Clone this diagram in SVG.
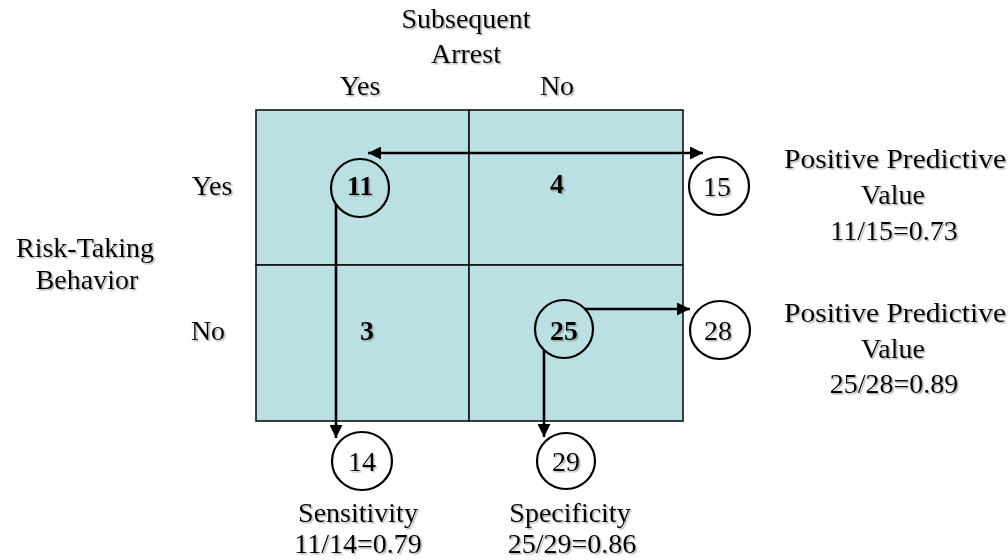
<svg xmlns="http://www.w3.org/2000/svg" width="1008" height="560" viewBox="0 0 1008 560">
<defs>
<style>
text{font-family:"Liberation Serif","Times New Roman",serif;font-size:28px;fill:#000;text-anchor:middle;filter:url(#sh)}
.b{font-weight:bold}
.cell{fill:#BBE0E3;stroke:#111;stroke-width:1.6}
.circ{fill:none;stroke:#000;stroke-width:2.2}
.circw{fill:#fff;stroke:#000;stroke-width:2.2}
.con{fill:none;stroke:#000;stroke-width:2.6}
</style>
<filter id="sh" x="-10%" y="-20%" width="130%" height="150%">
<feDropShadow dx="1.5" dy="1.5" stdDeviation="0.6" flood-color="#777" flood-opacity="0.55"/>
</filter>
<marker id="ah" viewBox="0 0 10 10" refX="10" refY="5" markerWidth="5" markerHeight="5" orient="auto-start-reverse" markerUnits="strokeWidth">
<path d="M0,0 L10,5 L0,10 z" fill="#000"/>
</marker>
</defs>

<g id="table">
<rect class="cell" x="256" y="110" width="213" height="155"/>
<rect class="cell" x="469" y="110" width="214" height="155"/>
<rect class="cell" x="256" y="265" width="213" height="156"/>
<rect class="cell" x="469" y="265" width="214" height="156"/>
</g>

<g id="headers">
<text x="466" y="28">Subsequent</text>
<text x="466" y="63">Arrest</text>
<text x="360" y="95">Yes</text>
<text x="557" y="95">No</text>
<text x="212" y="195">Yes</text>
<text x="208" y="340">No</text>
<text x="85" y="257">Risk-Taking</text>
<text x="87" y="289">Behavior</text>
</g>

<g id="connectors">
<line class="con" x1="368" y1="153" x2="703" y2="153" marker-start="url(#ah)" marker-end="url(#ah)"/>
<line class="con" x1="336" y1="204" x2="336" y2="438" marker-end="url(#ah)"/>
<line class="con" x1="585" y1="309" x2="690" y2="309" marker-end="url(#ah)"/>
<line class="con" x1="544" y1="350" x2="544" y2="437" marker-end="url(#ah)"/>
</g>

<g id="n11"><circle class="circ" cx="360" cy="188" r="29"/><text class="b" x="360" y="195">11</text></g>
<g id="n4"><text class="b" x="557" y="193">4</text></g>
<g id="n3"><text class="b" x="367" y="340">3</text></g>
<g id="n25"><circle class="circ" cx="564" cy="329" r="29"/><text class="b" x="564" y="340">25</text></g>

<g id="n15"><ellipse class="circw" cx="719" cy="186" rx="30" ry="29"/><text x="717" y="196">15</text></g>
<g id="n28"><ellipse class="circw" cx="720" cy="330" rx="30" ry="29"/><text x="718" y="340">28</text></g>
<g id="n14"><ellipse class="circw" cx="362" cy="461" rx="30" ry="29"/><text x="362" y="471">14</text></g>
<g id="n29"><ellipse class="circw" cx="566" cy="461" rx="29" ry="28"/><text x="566" y="471">29</text></g>

<g id="ppv1">
<text x="895" y="168" textLength="222" lengthAdjust="spacingAndGlyphs">Positive Predictive</text>
<text x="893" y="204">Value</text>
<text x="894" y="240">11/15=0.73</text>
</g>
<g id="ppv2">
<text x="895" y="322" textLength="222" lengthAdjust="spacingAndGlyphs">Positive Predictive</text>
<text x="893" y="358">Value</text>
<text x="894" y="393">25/28=0.89</text>
</g>
<g id="sens">
<text x="358" y="522">Sensitivity</text>
<text x="358" y="553">11/14=0.79</text>
</g>
<g id="spec">
<text x="570" y="522">Specificity</text>
<text x="572" y="553">25/29=0.86</text>
</g>
</svg>
